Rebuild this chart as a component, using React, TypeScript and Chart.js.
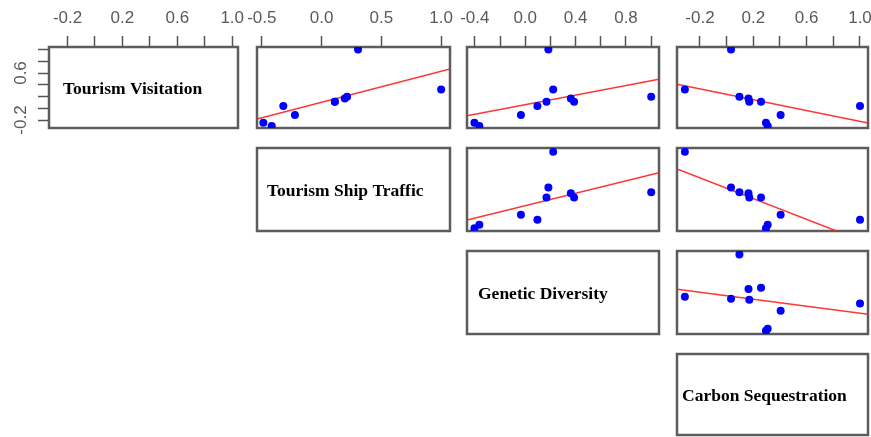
import React, { useEffect, useRef } from 'react';
import { Chart, registerables } from 'chart.js';

Chart.register(...registerables);

// ---------- data ----------
const variableNames = ['Tourism Visitation', 'Tourism Ship Traffic', 'Genetic Diversity', 'Carbon Sequestration'];
const tourismVisitation = [1.0, 0.32, 0.195, 0.168, 0.11, 0.11, 0.037, -0.116, -0.246, -0.302];
const tourismShipTraffic = [0.305, 1.0, 0.213, 0.194, 0.111, 0.111, -0.32, -0.223, -0.487, -0.417];
const geneticDiversity = [0.184, 0.222, 1.0, 0.362, 0.169, 0.388, 0.097, -0.034, -0.403, -0.364];
const carbonSequestration = [0.033, -0.313, 0.096, 0.164, 0.17, 0.258, 1.0, 0.405, 0.295, 0.308];
const variables = [tourismVisitation, tourismShipTraffic, geneticDiversity, carbonSequestration];

// axis ranges and ticks per variable
const axisMin = [-0.335, -0.54, -0.462, -0.372];
const axisMax = [1.042, 1.074, 1.062, 1.06];
const tickValues = [
  [-0.2, 0, 0.2, 0.4, 0.6, 0.8, 1.0],
  [-0.5, 0, 0.5, 1.0],
  [-0.4, -0.2, 0, 0.2, 0.4, 0.6, 0.8, 1.0],
  [-0.2, 0, 0.2, 0.4, 0.6, 0.8, 1.0],
];
const topTickLabels = [
  ['-0.2', '0.2', '0.6', '1.0'],
  ['-0.5', '0.0', '0.5', '1.0'],
  ['-0.4', '0.0', '0.4', '0.8'],
  ['-0.2', '0.2', '0.6', '1.0'],
];
const leftTickLabels = ['-0.2', '0.6'];

// ---------- layout ----------
const colLeft = [49, 257, 467, 677];
const colRight = [238, 450, 659, 868];
const rowTop = [47, 148, 251, 354];
const rowBottom = [128, 231, 334, 435];
const labelOffsetX = [14, 10, 11, 5];
const MARGIN = 20;

const TICK_COLOR = '#555555';
const LABEL_COLOR = '#5a5a5a';
const BOX_COLOR = '#5c5c5c';

function leastSquares(xs: number[], ys: number[]) {
  const n = xs.length;
  const mx = xs.reduce((a, b) => a + b, 0) / n;
  const my = ys.reduce((a, b) => a + b, 0) / n;
  let sxy = 0;
  let sxx = 0;
  for (let k = 0; k < n; k++) {
    sxy += (xs[k] - mx) * (ys[k] - my);
    sxx += (xs[k] - mx) * (xs[k] - mx);
  }
  const slope = sxy / sxx;
  return { slope, intercept: my - slope * mx };
}

function fmt(v: number) {
  const x = Math.abs(v) < 1e-9 ? 0 : v;
  return x.toFixed(1);
}

function Panel({ row, col }: { row: number; col: number }) {
  const ref = useRef<HTMLCanvasElement>(null);
  const showX = row === 0;
  const showY = row === 0 && col === 0;
  const mL = showY ? colLeft[0] : MARGIN;
  const mT = showX ? rowTop[0] : MARGIN;
  const w = colRight[col] - colLeft[col] + mL + MARGIN;
  const h = rowBottom[row] - rowTop[row] + mT + MARGIN;

  useEffect(() => {
    if (!ref.current) return;
    const datasets: any[] = [];
    if (col > row) {
      const xs = variables[col];
      const ys = variables[row];
      const fit = leastSquares(xs, ys);
      datasets.push({
        type: 'scatter',
        data: xs.map((x, k) => ({ x, y: ys[k] })),
        backgroundColor: '#0000ff',
        borderColor: '#0000ff',
        borderWidth: 0,
        pointRadius: 4,
      });
      datasets.push({
        type: 'line',
        data: [
          { x: axisMin[col], y: fit.intercept + fit.slope * axisMin[col] },
          { x: axisMax[col], y: fit.intercept + fit.slope * axisMax[col] },
        ],
        borderColor: 'rgba(255,30,30,0.9)',
        borderWidth: 1.5,
        pointRadius: 0,
        fill: false,
      });
    }
    const label = row === col ? variableNames[row] : null;
    const boxPlugin = {
      id: 'pairsBox',
      beforeDatasetsDraw(chart: any) {
        const { ctx, chartArea: a } = chart;
        ctx.save();
        ctx.strokeStyle = BOX_COLOR;
        ctx.lineWidth = 2.5;
        ctx.strokeRect(a.left, a.top, a.right - a.left, a.bottom - a.top);
        if (label) {
          ctx.font = 'bold 17.5px "Liberation Serif", "Times New Roman", serif';
          ctx.fillStyle = '#000000';
          ctx.textBaseline = 'alphabetic';
          ctx.textAlign = 'left';
          ctx.fillText(label, a.left + labelOffsetX[row], (a.top + a.bottom) / 2 + 6);
        }
        ctx.restore();
      },
    };
    const tickFont = { family: '"Liberation Sans", Arial, sans-serif', size: 17 };
    const chart = new Chart(ref.current, {
      type: 'scatter',
      data: { datasets },
      plugins: [boxPlugin],
      options: {
        animation: false,
        responsive: false,
        maintainAspectRatio: false,
        layout: {
          padding: {
            left: showY ? 0 : mL,
            top: showX ? 0 : mT,
            right: MARGIN,
            bottom: MARGIN,
          },
        },
        plugins: {
          legend: { display: false },
          tooltip: { enabled: false },
          title: { display: false },
        },
        scales: {
          x: {
            type: 'linear',
            position: 'top',
            display: showX,
            bounds: 'data',
            min: axisMin[col],
            max: axisMax[col],
            border: { display: false },
            grid: {
              drawOnChartArea: false,
              drawTicks: true,
              tickLength: 11,
              tickColor: TICK_COLOR,
              tickWidth: 1.5,
            },
            ticks: {
              autoSkip: false,
              minRotation: 0,
              maxRotation: 0,
              padding: 7,
              color: LABEL_COLOR,
              font: tickFont,
              callback: (v: any) => {
                const s = fmt(Number(v));
                return topTickLabels[col].includes(s) ? s : '';
              },
            },
            afterBuildTicks: (s: any) => {
              s.ticks = tickValues[col].map((v) => ({ value: v }));
            },
            afterFit: (s: any) => {
              if (showX) s.height = rowTop[0];
            },
          },
          y: {
            type: 'linear',
            position: 'left',
            display: showY,
            bounds: 'data',
            min: axisMin[row],
            max: axisMax[row],
            border: { display: false },
            grid: {
              drawOnChartArea: false,
              drawTicks: true,
              tickLength: 11,
              tickColor: TICK_COLOR,
              tickWidth: 1.5,
            },
            ticks: {
              autoSkip: false,
              minRotation: 90,
              maxRotation: 90,
              crossAlign: 'center',
              padding: 2,
              color: LABEL_COLOR,
              font: tickFont,
              callback: (v: any) => {
                const s = fmt(Number(v));
                return leftTickLabels.includes(s) ? s : '';
              },
            },
            afterBuildTicks: (s: any) => {
              s.ticks = tickValues[row].map((v) => ({ value: v }));
            },
            afterFit: (s: any) => {
              if (showY) s.width = colLeft[0];
            },
          },
        },
      } as any,
    });
    return () => chart.destroy();
  }, [row, col]);

  return (
    <canvas
      ref={ref}
      width={w}
      height={h}
      style={{ position: 'absolute', left: colLeft[col] - mL, top: rowTop[row] - mT, width: w, height: h }}
    />
  );
}

export default function App() {
  const cells: { row: number; col: number }[] = [];
  for (let r = 0; r < 4; r++) {
    for (let c = r; c < 4; c++) cells.push({ row: r, col: c });
  }
  return (
    <div
      style={{
        position: 'absolute',
        left: 0,
        top: 0,
        width: 871,
        height: 437,
        overflow: 'hidden',
        background: '#ffffff',
      }}
    >
      {cells.map((c) => (
        <Panel key={`${c.row}-${c.col}`} row={c.row} col={c.col} />
      ))}
    </div>
  );
}
